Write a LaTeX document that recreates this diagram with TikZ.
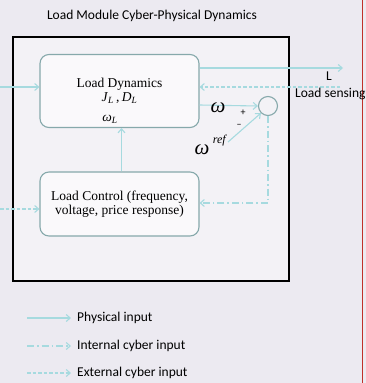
\documentclass[tikz,border=0pt]{standalone}
\usepackage{fontspec}
\setmainfont{Liberation Serif}
\newfontfamily\calibrifont{Carlito}
\usetikzlibrary{arrows.meta}
\definecolor{bgc}{HTML}{ECEAF1}
\definecolor{inbg}{HTML}{F3F2F6}
\definecolor{boxline}{HTML}{86A9AB}
\definecolor{arrc}{HTML}{A6DADF}
\definecolor{redline}{HTML}{C0302A}
\tikzset{
  blk/.style={draw=boxline, line width=1.1pt, rounded corners=9pt, fill=white, fill opacity=0.6, text opacity=1},
  phys/.style={draw=arrc, line width=1.1pt, -{Straight Barb[length=4pt,width=7pt]}},
  intcy/.style={phys, dash pattern=on 7pt off 3pt on 1.5pt off 3pt},
  extcy/.style={phys, dash pattern=on 3.5pt off 2pt},
  cal/.style={font=\calibrifont\fontsize{13.5}{15}\selectfont, inner sep=0pt},
  tms/.style={font=\fontsize{13.5}{15}\selectfont, inner sep=0pt},
}
\begin{document}
\begin{tikzpicture}[x=1pt,y=-1pt]
\useasboundingbox (0,0) rectangle (366,383);
\fill[bgc] (0,0) rectangle (366,383);
\fill[inbg] (13,37) rectangle (289,281);
\draw[redline, line width=1pt] (362,0) -- (362,383);
\node[cal] (title) at (152,16) {Load Module Cyber-Physical Dynamics};
\node[draw=black, line width=1.1pt, minimum width=276pt, minimum height=244pt, inner sep=0pt] (outer) at (151,159) {};
% Load dynamics
\node[blk, minimum width=159pt, minimum height=73pt] (ld) at (119.5,91) {};
\node[tms] (ldt) at (119.5,84) {Load Dynamics};
\node[tms] (jd) at (119.5,98) {\textit{J}\textsubscript{\textit{L}}\,,\,\textit{D}\textsubscript{\textit{L}}};
\node[tms] (wl) at (110,119) {\textit{ω}\textsubscript{\textit{L}}};
% Load control
\node[blk, minimum width=159pt, minimum height=64pt, align=center, tms, inner sep=0pt] (lc) at (119.5,204) {Load Control (frequency,\\[-1pt]voltage, price response)};
% circle
\node[circle, draw=boxline, line width=1.1pt, minimum size=19pt, inner sep=0pt] (sum) at (268,106) {};
% coordinates
\coordinate (inL) at (0,87);
\coordinate (inLc) at (0,209);
\coordinate (Lend) at (343,68);
\coordinate (sensStart) at (340,87);
\coordinate (corner) at (268,203);
\coordinate (refstart) at (228,142);
% arrows
\draw[phys] (inL) -- (ld.west |- inL);
\draw[extcy] (inLc) -- (lc.west |- inLc);
\draw[phys] (ld.east |- Lend) -- (Lend);
\draw[extcy] (sensStart) -- (ld.east |- sensStart);
\draw[phys] (ld.east |- 0,105) -- (sum.west);
\draw[phys] (refstart) -- (sum.south west);
\draw[intcy] (sum.south) -- (corner) -- (lc.east |- corner);
\draw[phys] (lc.north -| 121.5,0) -- (ld.south -| 121.5,0);
% labels
\node[cal] (Llab) at (329,76) {L};
\node[cal, anchor=west] (sens) at (295,94) {Load sensing};
\node[font=\fontsize{21}{21}\selectfont, inner sep=0pt] (om) at (218,108) {\textit{ω}};
\node[font=\calibrifont\fontsize{10}{10}\selectfont, inner sep=0pt] (plus) at (243,113) {+};
\node[font=\calibrifont\fontsize{10}{10}\selectfont, inner sep=0pt] (minus) at (239,126) {\textendash};
\node[font=\fontsize{21}{21}\selectfont, inner sep=0pt] (omr) at (202,150) {\textit{ω}};
\node[font=\fontsize{12}{12}\selectfont, inner sep=0pt] (ref) at (220,141) {\textit{ref}};
% legend
\coordinate (l1a) at (27,318); \coordinate (l1b) at (71,318);
\coordinate (l2a) at (27,346); \coordinate (l2b) at (71,346);
\coordinate (l3a) at (27,373); \coordinate (l3b) at (71,373);
\draw[phys] (l1a) -- (l1b);
\draw[intcy] (l2a) -- (l2b);
\draw[extcy] (l3a) -- (l3b);
\node[cal, anchor=west] (t1) at (77,318) {Physical input};
\node[cal, anchor=west] (t2) at (77,346) {Internal cyber input};
\node[cal, anchor=west] (t3) at (77,373) {External cyber input};
\end{tikzpicture}
\end{document}
